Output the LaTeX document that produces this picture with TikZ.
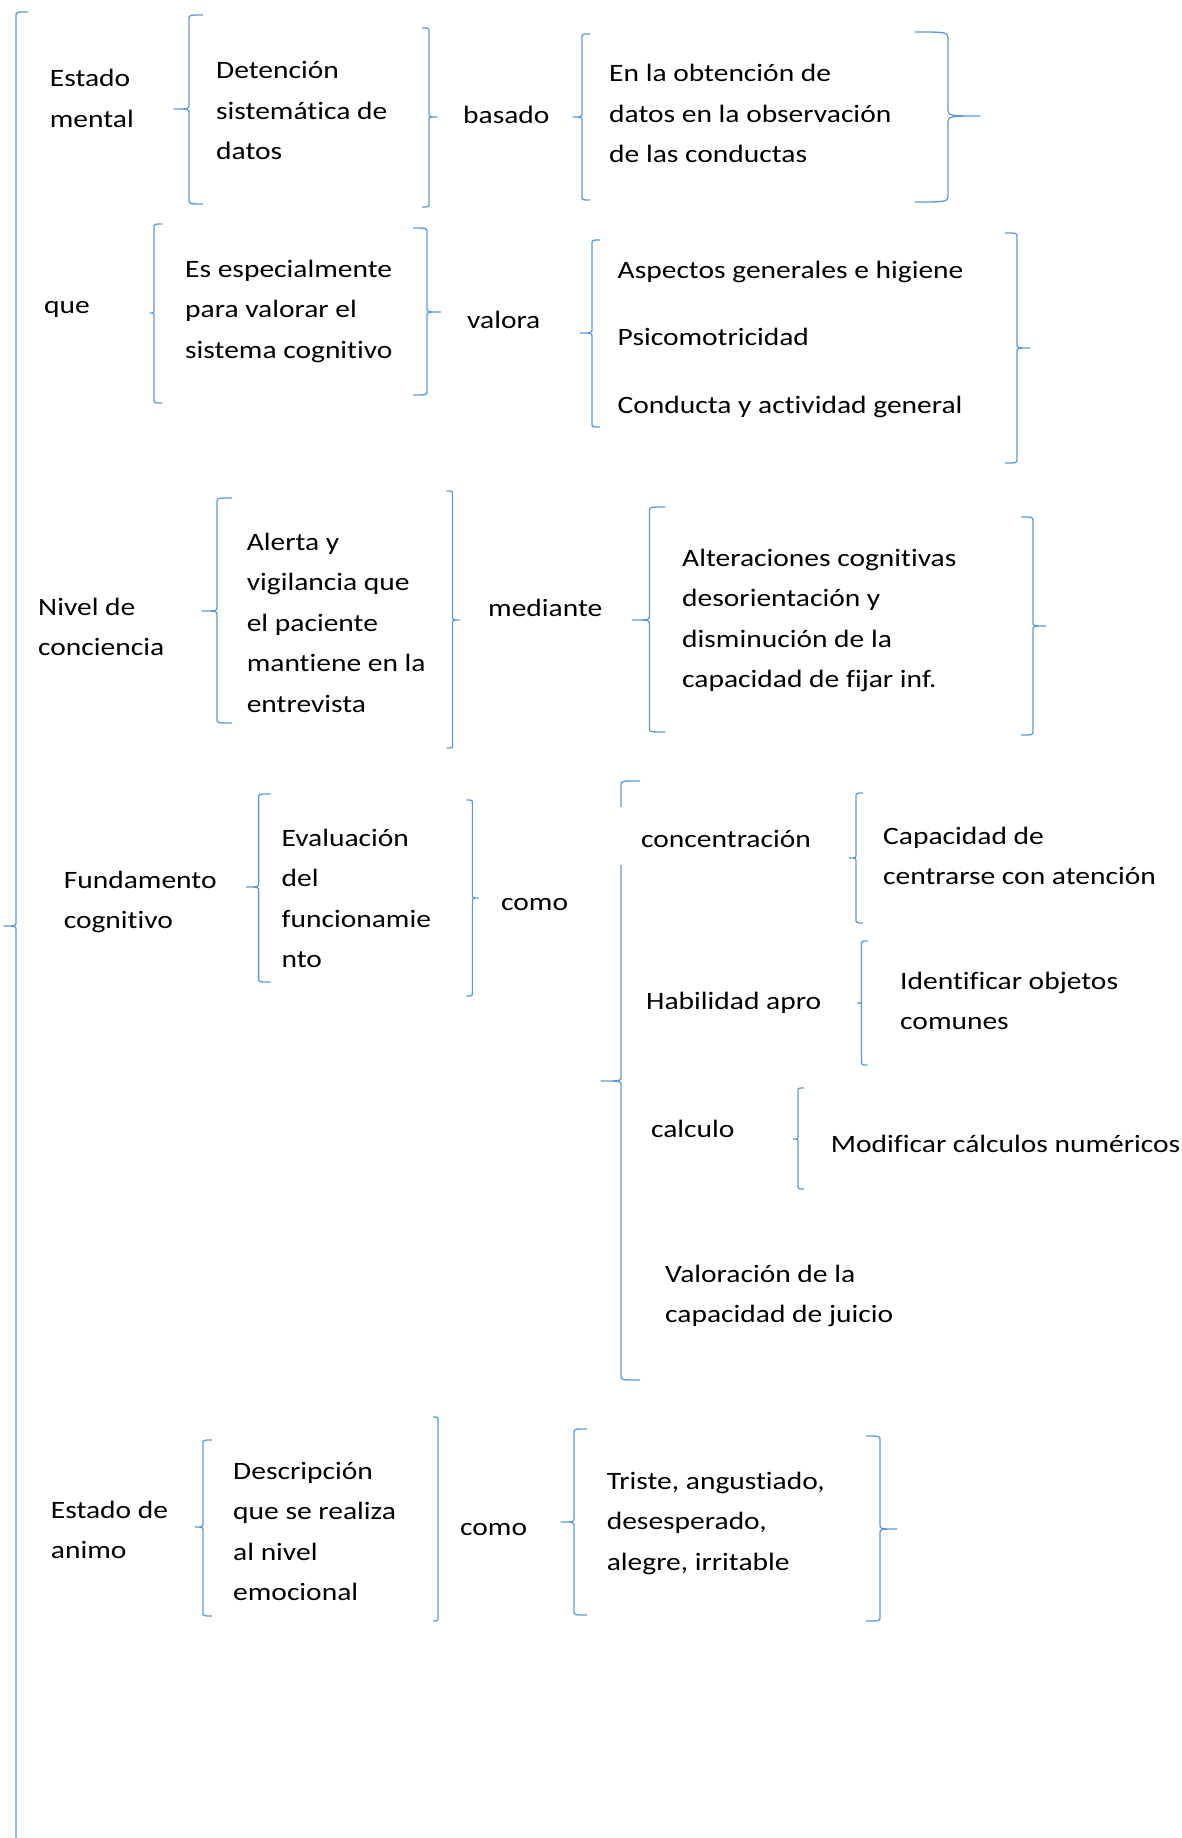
\documentclass[tikz,border=0pt]{standalone}
\usepackage{fontspec}
\setmainfont{Carlito}[FakeStretch=1.18, Ligatures=NoCommon]
\usepackage{tikz}
\usetikzlibrary{positioning}
\definecolor{azulword}{HTML}{5B9BD5}
\def\TamLetra{25}
\def\Interlinea{40.5}
\tikzset{
  texto/.style={anchor=base west, align=left, inner sep=0pt,
    font=\fontsize{\TamLetra}{\Interlinea}\selectfont},
  corchete/.style={draw=azulword, line width=1.3pt, line join=round}
}
% x, arriba, abajo, punta y, punta x, gancho, radio
\newcommand{\llave}[7]{%
  \draw[corchete] ({#1+#6},#2) .. controls (#1,#2) .. (#1,{#2+#7})
    -- (#1,{#4-#7}) .. controls (#1,#4) .. (#5,#4)
    .. controls (#1,#4) .. (#1,{#4+#7})
    -- (#1,{#3-#7}) .. controls (#1,#3) .. ({#1+#6},#3);}

\begin{document}
\begin{tikzpicture}[x=1pt,y=-1pt]
  \useasboundingbox (0,0) rectangle (1181,1838);

  % llave principal
  \draw[corchete] (28,12) .. controls (16,12) .. (16,16)
    -- (16,922) .. controls (16,926) .. (4,926)
    .. controls (16,926) .. (16,930) -- (16,1838);

  % Estado mental (las coordenadas van en la base de la ultima linea)
  \node[texto] (em) at (49.7,127.5) {Estado\\mental};
  \llave{189}{15}{204}{109}{174}{14}{4}
  \node[texto] (det) at (216,160) {Detención\\sistemática de\\datos};
  \llave{429}{28}{207}{117}{437}{-7}{4}
  \node[texto] (basado) at (463,124) {basado};
  \llave{582}{34}{200}{117}{573}{8}{4}
  \node[texto] (obt) at (609,163) {En la obtención de\\datos en la observación\\de las conductas};
  \llave{948}{32}{202}{116}{980}{-33}{8}

  % que
  \node[texto] (que) at (44,313) {que};
  \llave{154}{224}{403}{313}{150}{8}{4}
  \node[texto] (esp) at (185,358) {Es especialmente\\para valorar el\\sistema cognitivo};
  \llave{427}{228}{395}{312}{440.5}{-14}{4}
  \node[texto] (valora) at (467,328) {valora};
  \llave{592}{240}{427}{333}{580}{8}{4}
  \node[texto] (asp) at (617.5,413) {Aspectos generales e higiene\\[27pt]Psicomotricidad\\[27pt]Conducta y actividad general};
  \llave{1017}{233}{463}{348}{1030}{-12}{4}

  % Nivel de conciencia
  \node[texto] (nivel) at (38,655.5) {Nivel de\\conciencia};
  \llave{217}{498}{723}{611}{202}{15}{4}
  \node[texto] (alerta) at (246.6,712) {Alerta y\\vigilancia que\\el paciente\\mantiene en la\\entrevista};
  \llave{452.5}{491}{748}{620}{459.5}{-6}{4}
  \node[texto] (mediante) at (488,616) {mediante};
  \llave{649.4}{507}{732}{620}{632.5}{16}{4}
  \node[texto] (alter) at (682,687.5) {Alteraciones cognitivas\\desorientación y\\disminución de la\\capacidad de fijar inf.};
  \llave{1033}{517}{735}{626}{1046}{-12}{4}

  % Fundamento cognitivo
  \node[texto] (fund) at (63.6,928.5) {Fundamento\\cognitivo};
  \llave{258.6}{794}{982}{887}{246.6}{12}{4}
  \node[texto] (evalua) at (281.4,967.5) {Evaluación\\del\\funcionamie\\nto};
  \llave{472.4}{800}{996}{898}{478.4}{-6}{4}
  \node[texto] (como1) at (501,910) {como};
  \llave{621}{781}{1380}{1081}{601}{19}{4}
  \node[texto, fill=white, inner xsep=26pt, text height=40pt, text depth=18pt] (conc) at (615,847) {concentración};
  \llave{856}{793}{923}{858}{849}{7}{4}
  \node[texto] (capac) at (883,884.5) {Capacidad de\\centrarse con atención};
  \node[texto] (habil) at (646,1009) {Habilidad apro};
  \llave{861.5}{941}{1065}{1003}{857.5}{6}{4}
  \node[texto] (ident) at (900,1029.5) {Identificar objetos\\comunes};
  \node[texto] (calc) at (650.8,1137) {calculo};
  \llave{798}{1088}{1189}{1139}{793}{6}{4}
  \node[texto] (modif) at (830.7,1152) {Modificar cálculos numéricos};
  \node[texto] (valjui) at (665,1322.5) {Valoración de la\\capacidad de juicio};

  % Estado de animo
  \node[texto] (animo) at (50.7,1558.5) {Estado de\\animo};
  \llave{203}{1440}{1616}{1527}{195}{9}{4}
  \node[texto] (descr) at (233,1600.5) {Descripción\\que se realiza\\al nivel\\emocional};
  \llave{438}{1417}{1621}{1520}{438}{-5}{4}
  \node[texto] (como2) at (460,1535) {como};
  \llave{574}{1429}{1615}{1522}{561}{13}{4}
  \node[texto] (triste) at (606.6,1570) {Triste, angustiado,\\desesperado,\\alegre, irritable};
  \llave{880}{1436}{1621}{1529}{897}{-14}{4}
\end{tikzpicture}
\end{document}
